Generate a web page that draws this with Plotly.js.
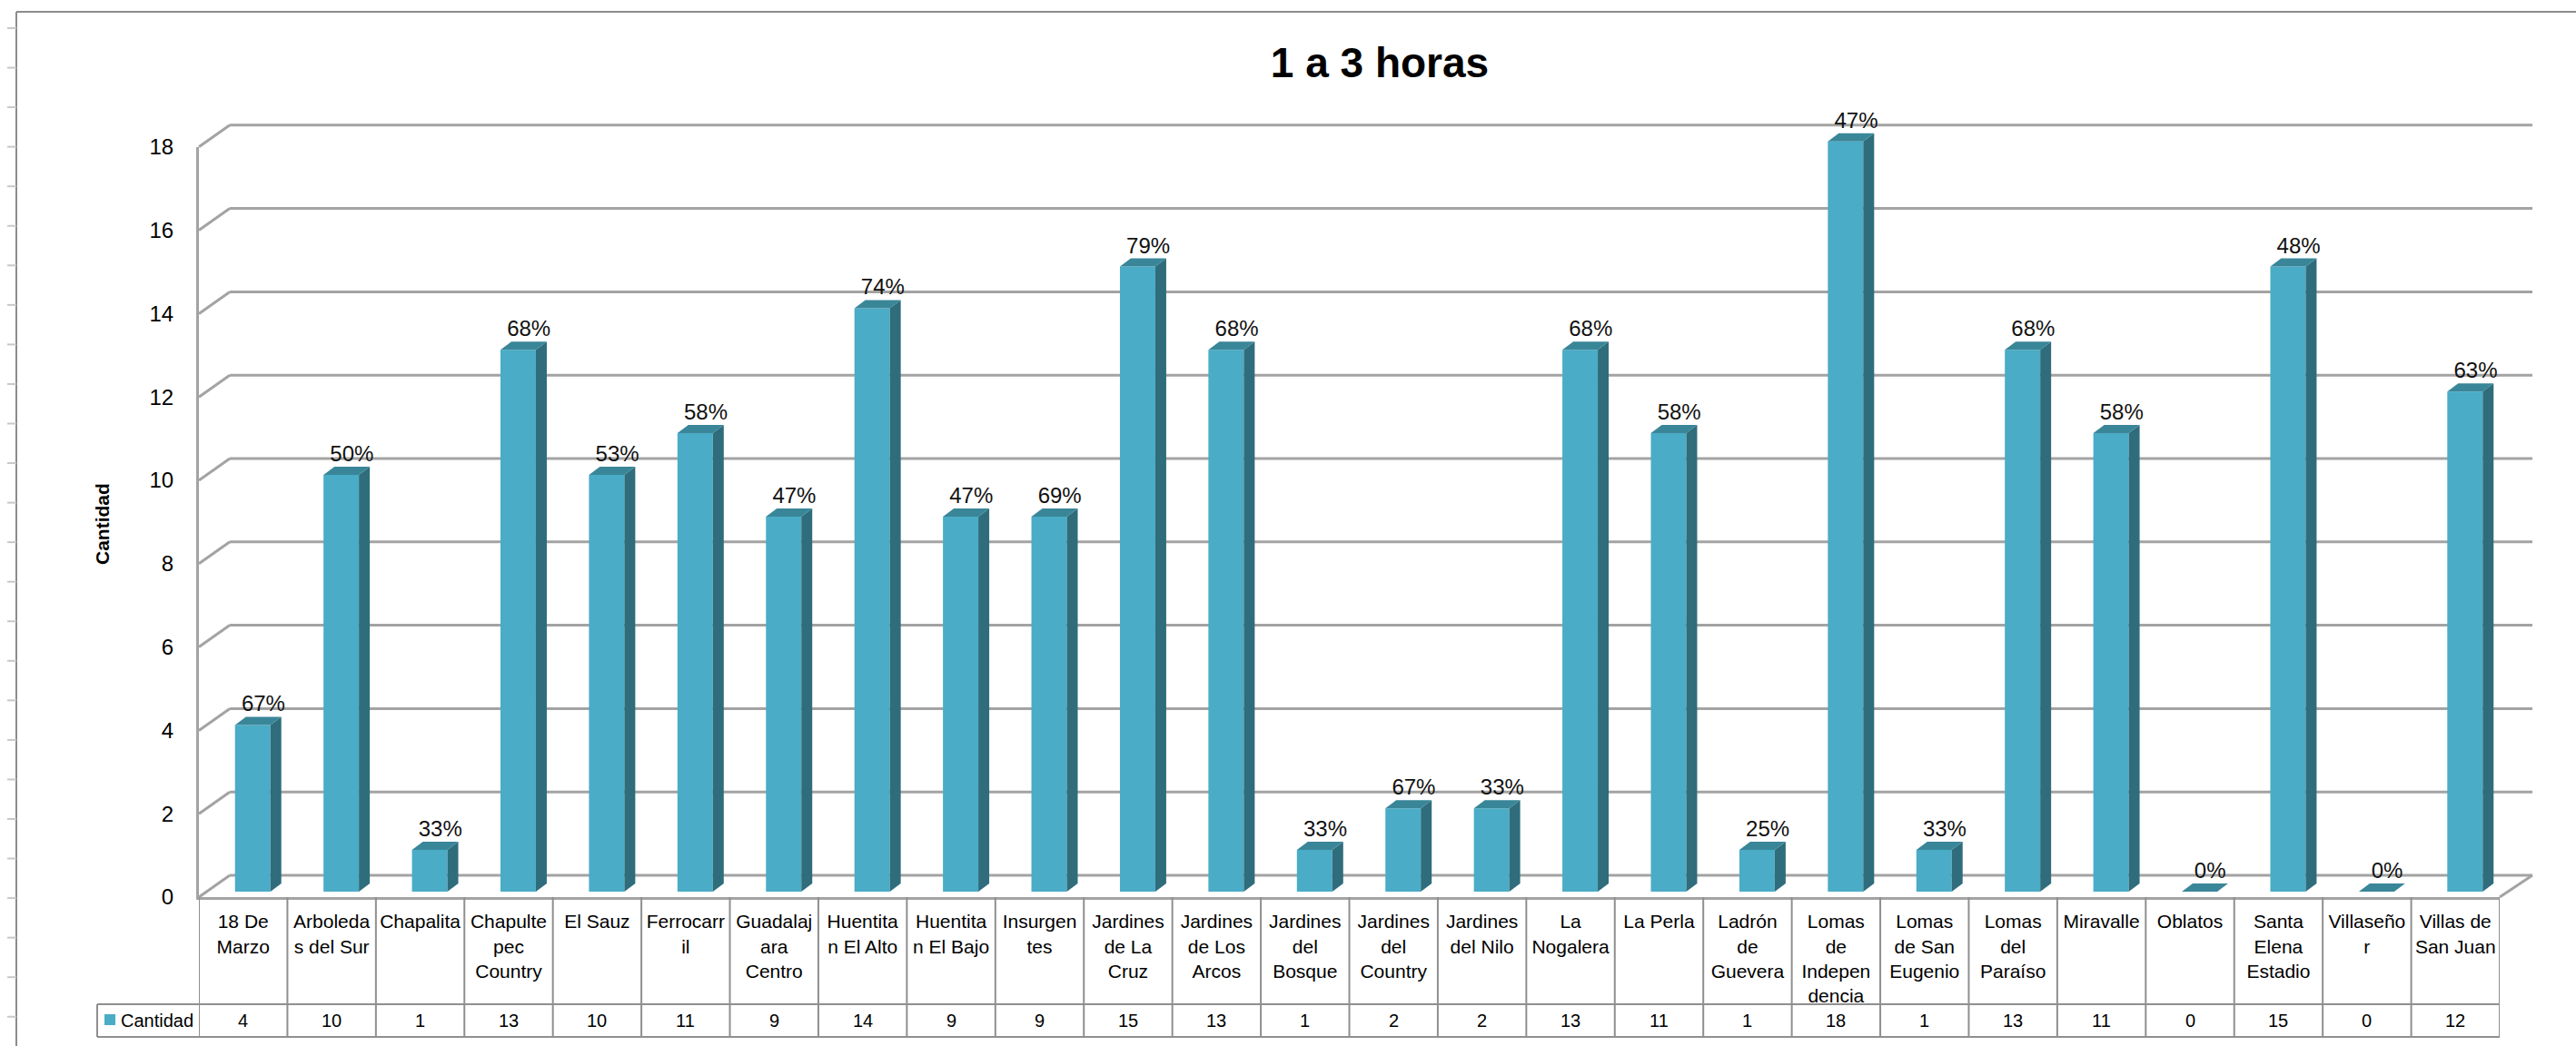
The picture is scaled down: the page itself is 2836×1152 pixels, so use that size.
<!DOCTYPE html>
<html>
<head>
<meta charset="utf-8">
<script src="https://cdn.plot.ly/plotly-3.0.1.min.js"></script>
<style>html,body{margin:0;padding:0;background:#fff;}#chart{width:2836px;height:1152px;}</style>
</head>
<body>
<div id="chart"></div>
<script>
// ---------- DATA ----------
const categories = ["18 De Marzo","Arboledas del Sur","Chapalita","Chapultepec Country","El Sauz","Ferrocarril","Guadalajara Centro","Huentitan El Alto","Huentitan El Bajo","Insurgentes","Jardines de La Cruz","Jardines de Los Arcos","Jardines del Bosque","Jardines del Country","Jardines del Nilo","La Nogalera","La Perla","Ladrón de Guevera","Lomas de Independencia","Lomas de San Eugenio","Lomas del Paraíso","Miravalle","Oblatos","Santa Elena Estadio","Villaseñor","Villas de San Juan"];
const categoryLabels = ["18 De<br>Marzo","Arboleda<br>s del Sur","Chapalita","Chapulte<br>pec<br>Country","El Sauz","Ferrocarr<br>il","Guadalaj<br>ara<br>Centro","Huentita<br>n El Alto","Huentita<br>n El Bajo","Insurgen<br>tes","Jardines<br>de La<br>Cruz","Jardines<br>de Los<br>Arcos","Jardines<br>del<br>Bosque","Jardines<br>del<br>Country","Jardines<br>del Nilo","La<br>Nogalera","La Perla","Ladrón<br>de<br>Guevera","Lomas<br>de<br>Indepen<br>dencia","Lomas<br>de San<br>Eugenio","Lomas<br>del<br>Paraíso","Miravalle","Oblatos","Santa<br>Elena<br>Estadio","Villaseño<br>r","Villas de<br>San Juan"];
const cantidad = [4,10,1,13,10,11,9,14,9,9,15,13,1,2,2,13,11,1,18,1,13,11,0,15,0,12];
const porcentajes = ["67%","50%","33%","68%","53%","58%","47%","74%","47%","69%","79%","68%","33%","67%","33%","68%","58%","25%","47%","33%","68%","58%","0%","48%","0%","63%"];
const seriesName = "Cantidad";
const chartTitle = "1 a 3 horas";
const yAxisTitle = "Cantidad";
const yMax = 18, yStep = 2;

// ---------- GEOMETRY / STYLE ----------
const W = 2836, H = 1152;
const U = 45.9;                       // px per unit
const FL = 219, FR = 2752;            // front plane left/right px
const CW = (FR - FL) / categories.length;
const FRONT0 = 988, BACK0 = 964, BAR0 = 982;
const BACKDX = 34, BARDX = 10.5;
const px = p => p / W;
const py = p => 1 - p / H;
const ydom = (zero, lo, hi) => [py(zero - lo * U), py(zero - hi * U)];
const FONT = "Liberation Sans, Arial, sans-serif";
const C_FRONT = "#4aacc6", C_SIDE = "#2f6d7c", C_TOP = "#3a8699";
const C_GRID = "#a3a3a3", C_TABLE = "#8f8f8f", C_BORDER = "#8c8c8c";

const idx = categories.map((_, i) => i);
const hw = 0.2;                  // half bar width (category units)
const dxu = 12 / CW, dyu = 9 / U; // bar depth

// side & top faces, derived from the data values
const sideX = [], sideY = [], topX = [], topY = [];
cantidad.forEach((v, i) => {
  sideX.push(i + hw, i + hw + dxu, i + hw + dxu, i + hw, null);
  sideY.push(0, dyu, v + dyu, v, null);
  topX.push(i - hw, i + hw, i + hw + dxu, i - hw + dxu, null);
  topY.push(v, v, v + dyu, v + dyu, null);
});

const traces = [
  {type: "bar", name: seriesName, x: idx, y: cantidad, width: 2 * hw,
   marker: {color: C_FRONT, line: {width: 0}}, xaxis: "x3", yaxis: "y3", hoverinfo: "skip", showlegend: false},
  {type: "scatter", mode: "lines", x: sideX, y: sideY, fill: "toself", fillcolor: C_SIDE,
   line: {width: 0, color: C_SIDE}, xaxis: "x3", yaxis: "y3", hoverinfo: "skip", showlegend: false},
  {type: "scatter", mode: "lines", x: topX, y: topY, fill: "toself", fillcolor: C_TOP,
   line: {width: 0, color: C_TOP}, xaxis: "x3", yaxis: "y3", hoverinfo: "skip", showlegend: false},
  {type: "scatter", mode: "text", x: idx.map(i => i + 0.12), y: cantidad.map(v => v + dyu),
   text: porcentajes, textposition: "top center", cliponaxis: false,
   textfont: {family: FONT, size: 24, color: "#111"}, xaxis: "x3", yaxis: "y3", hoverinfo: "skip", showlegend: false}
];

// ---------- SHAPES (frame, table) ----------
const shapes = [];
// chart border
shapes.push({type: "line", xref: "paper", yref: "paper", x0: px(18), x1: 1, y0: py(13), y1: py(13), line: {color: C_BORDER, width: 2}});
shapes.push({type: "line", xref: "paper", yref: "paper", x0: px(18), x1: px(18), y0: py(13), y1: 0, line: {color: C_BORDER, width: 2}});
for (let y = 31; y < H; y += 43.55) {
  shapes.push({type: "line", xref: "paper", yref: "paper", x0: px(8), x1: px(18), y0: py(y), y1: py(y), line: {color: "#c8c8c8", width: 2}});
}
// back-wall gridlines and left-wall diagonals, at each y tick
for (let v = 0; v <= yMax; v += yStep) {
  const yf = FRONT0 - v * U, yb = BACK0 - v * U;
  shapes.push({type: "line", layer: "below", xref: "paper", yref: "paper", x0: px(FL + BACKDX), x1: px(FR + BACKDX + 2), y0: py(yb), y1: py(yb), line: {color: C_GRID, width: 3}});
  shapes.push({type: "line", layer: "below", xref: "paper", yref: "paper", x0: px(FL), x1: px(FL + BACKDX), y0: py(yf), y1: py(yb), line: {color: C_GRID, width: 3}});
}
// floor right diagonal
shapes.push({type: "line", layer: "below", xref: "paper", yref: "paper", x0: px(FR), x1: px(FR + BACKDX + 2), y0: py(FRONT0), y1: py(BACK0), line: {color: C_GRID, width: 3}});
// table
const T_MID = 1106, T_BOT = 1142, T_LEG = 107;
for (let i = 0; i <= categories.length; i++) {
  shapes.push({type: "line", xref: "x", yref: "paper", x0: i - 0.5, x1: i - 0.5, y0: py(FRONT0), y1: py(T_BOT), line: {color: C_TABLE, width: 2}});
}
shapes.push({type: "line", xref: "paper", yref: "paper", x0: px(T_LEG), x1: px(FR), y0: py(T_MID), y1: py(T_MID), line: {color: C_TABLE, width: 2}});
shapes.push({type: "line", xref: "paper", yref: "paper", x0: px(T_LEG), x1: px(FR), y0: py(T_BOT), y1: py(T_BOT), line: {color: C_TABLE, width: 2}});
shapes.push({type: "line", xref: "paper", yref: "paper", x0: px(T_LEG), x1: px(T_LEG), y0: py(T_MID), y1: py(T_BOT), line: {color: C_TABLE, width: 2}});
// legend key square
shapes.push({type: "rect", xref: "paper", yref: "paper", x0: px(115), x1: px(127), y0: py(1117), y1: py(1129), fillcolor: C_FRONT, line: {width: 0}});

// ---------- ANNOTATIONS ----------
const annotations = cantidad.map((v, i) => ({
  xref: "x", yref: "paper", x: i, y: py((T_MID + T_BOT) / 2), text: String(v), showarrow: false,
  xanchor: "center", yanchor: "middle", font: {family: FONT, size: 20, color: "#000"}
}));
annotations.push({xref: "paper", yref: "paper", x: px(131), y: py((T_MID + T_BOT) / 2), text: seriesName, showarrow: false,
  xanchor: "left", yanchor: "middle", font: {family: FONT, size: 20, color: "#000"}});
annotations.push({xref: "paper", yref: "paper", x: px(112), y: py(577), text: "<b>" + yAxisTitle + "</b>", textangle: -90, showarrow: false,
  xanchor: "center", yanchor: "middle", font: {family: FONT, size: 21, color: "#000"}});

const layout = {
  width: W, height: H, margin: {l: 0, r: 0, t: 0, b: 0, pad: 0},
  paper_bgcolor: "#ffffff", plot_bgcolor: "rgba(0,0,0,0)", showlegend: false,
  title: {text: "<b>" + chartTitle + "</b>", x: 1519 / W, xref: "paper", xanchor: "center", y: py(69), yref: "container", yanchor: "middle",
          font: {family: FONT, size: 46, color: "#000"}},
  // front plane
  xaxis: {domain: [px(FL), px(FR)], range: [-0.5, categories.length - 0.5], anchor: "y",
          tickmode: "array", tickvals: idx, ticktext: categoryLabels, ticks: "", ticklabelstandoff: 6,
          tickfont: {family: FONT, size: 21, color: "#000"}, showgrid: false, zeroline: false,
          showline: true, linecolor: C_GRID, linewidth: 3, fixedrange: true},
  yaxis: {domain: ydom(FRONT0, 0, yMax), range: [0, yMax], anchor: "x", dtick: yStep, tick0: 0,
          ticks: "", ticklabelstandoff: 20, tickfont: {family: FONT, size: 24, color: "#000"},
          showgrid: false, zeroline: false, showline: true, linecolor: C_GRID, linewidth: 3, fixedrange: true},
  // bar plane
  xaxis3: {domain: [px(FL + BARDX), px(FR + BARDX)], range: [-0.5, categories.length - 0.5], anchor: "y3", visible: false, fixedrange: true},
  yaxis3: {domain: ydom(BAR0, -0.2, 20), range: [-0.2, 20], anchor: "x3", visible: false, fixedrange: true},
  shapes: shapes, annotations: annotations
};

Plotly.newPlot("chart", traces, layout, {displayModeBar: false, staticPlot: true});
</script>
</body>
</html>
